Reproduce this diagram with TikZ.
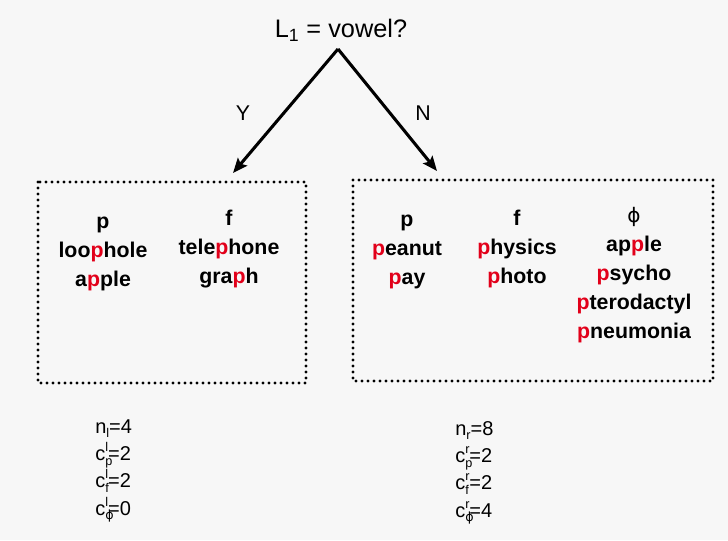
\documentclass[tikz,border=0pt]{standalone}
\usepackage{fontspec}
\setmainfont{Liberation Sans}
\newfontfamily\phifont{DejaVu Sans}
\usepackage{xcolor}
\usetikzlibrary{arrows.meta}
\definecolor{paper}{HTML}{F7F7F7}
\definecolor{hilite}{HTML}{E2001A}
\newcommand{\rp}{\textcolor{hilite}{p}}
\newcommand{\stk}[2]{\rlap{\raisebox{-0.45ex}{\fontsize{9.5}{10}\selectfont #1}}\raisebox{0.85ex}{\fontsize{9.5}{10}\selectfont #2}}

\begin{document}
\begin{tikzpicture}[x=0.75pt,y=-0.75pt,
  grp/.style={draw=black,line width=2.4pt,line cap=round,dash pattern=on 0pt off 4.5pt},
  col/.style={align=center,inner sep=0pt,font=\bfseries\fontsize{16}{21.75}\selectfont},
  stat/.style={align=left,anchor=north west,inner sep=0pt,font=\fontsize{15}{20.5}\selectfont},
  branch/.style={line width=2.3pt,-{Stealth[length=11pt,width=9pt,inset=2pt]}}]
  \fill[paper] (0,0) rectangle (728,540);
  \node[font=\fontsize{19}{22}\selectfont] (q) at (341,30) {L\textsubscript{1} = vowel?};
  \coordinate (apex) at (338,49);
  \coordinate (ytip) at (233,173);
  \coordinate (ntip) at (437,171);
  \draw[branch] (apex) -- (ytip);
  \draw[branch] (apex) -- (ntip);
  \node[font=\fontsize{16}{18}\selectfont] (ylab) at (243,113) {Y};
  \node[font=\fontsize{16}{18}\selectfont] (nlab) at (423,113) {N};
  % left group
  \draw[grp] (38,182) rectangle (306,383);
  \node[col] (lp) at (103,254) {p\\loo\rp hole\\a\rp ple};
  \node[col] (lf) at (229,249) {f\\tele\rp hone\\gra\rp h};
  % right group
  \draw[grp] (353,180) rectangle (713,381);
  \node[col] (rp) at (407,252) {p\\\rp eanut\\\rp ay};
  \node[col] (rf) at (517,249) {f\\\rp hysics\\\rp hoto};
  \node[col] (rphi) at (634,275) {{\mdseries\phifont\fontsize{15}{21.75}\selectfont ϕ}\\ap\rp le\\\rp sycho\\\rp terodactyl\\\rp neumonia};
  % counts
  \node[stat] (lstat) at (95,419)
    {n\raisebox{-0.45ex}{\fontsize{9.5}{10}\selectfont l}=4\\c\stk{p}{l}=2\\
     c\stk{f}{l}=2\\c\stk{\phifont ϕ}{l}=0};
  \node[stat] (rstat) at (455,421)
    {n\raisebox{-0.45ex}{\fontsize{9.5}{10}\selectfont r}=8\\c\stk{p}{r}=2\\
     c\stk{f}{r}=2\\c\stk{\phifont ϕ}{r}=4};
\end{tikzpicture}
\end{document}
